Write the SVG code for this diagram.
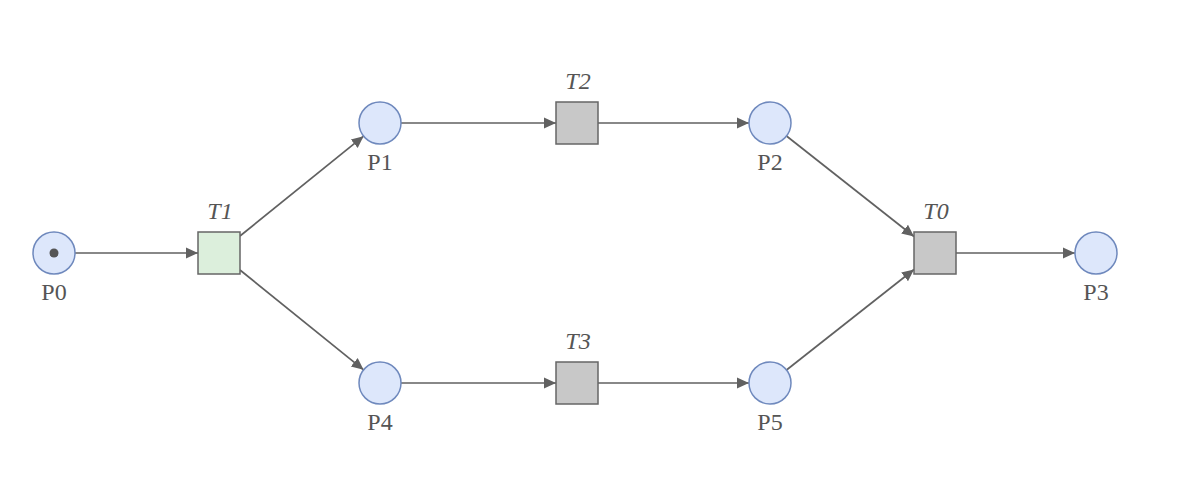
<svg xmlns="http://www.w3.org/2000/svg" width="1190" height="504" viewBox="0 0 1190 504">
<style>
.place{fill:#dde7fb;stroke:#6f89bd;stroke-width:1.5}
.trans{fill:#c8c8c8;stroke:#666;stroke-width:1.5}
.trans.en{fill:#dcefdc}
.lbl{font-family:'Liberation Serif','Times New Roman',serif;font-size:24px;fill:#555;text-anchor:middle}
.tl{font-style:italic}
.edge{stroke:#616161;stroke-width:1.7;fill:none;marker-end:url(#arr)}
</style>
<defs>
<marker id="arr" markerUnits="userSpaceOnUse" markerWidth="14" markerHeight="14" viewBox="0 0 14 14" refX="12" refY="7" orient="auto">
<path d="M0,1.5 L12,7 L0,12.5 Z" fill="#616161"/>
</marker>
</defs>
<rect width="1190" height="504" fill="#fff"/>
<g id="connectors">
<line class="edge" x1="75" y1="253" x2="198" y2="253"/>
<line class="edge" x1="240" y1="236" x2="363.6" y2="136.2"/>
<line class="edge" x1="240" y1="270" x2="363.6" y2="369.8"/>
<line class="edge" x1="401" y1="123" x2="556" y2="123"/>
<line class="edge" x1="401" y1="383" x2="556" y2="383"/>
<line class="edge" x1="598" y1="123" x2="749" y2="123"/>
<line class="edge" x1="598" y1="383" x2="749" y2="383"/>
<line class="edge" x1="786.5" y1="136" x2="914" y2="236.5"/>
<line class="edge" x1="786.5" y1="370" x2="914" y2="269.5"/>
<line class="edge" x1="956" y1="253" x2="1075" y2="253"/>
</g>
<g id="P0"><circle class="place" cx="54" cy="253" r="21"/><circle cx="54" cy="253" r="4.5" fill="#555"/><text class="lbl" x="54" y="300">P0</text></g>
<g id="P1"><circle class="place" cx="380" cy="123" r="21"/><text class="lbl" x="380" y="170">P1</text></g>
<g id="P2"><circle class="place" cx="770" cy="123" r="21"/><text class="lbl" x="770" y="170">P2</text></g>
<g id="P3"><circle class="place" cx="1096" cy="253" r="21"/><text class="lbl" x="1096" y="300">P3</text></g>
<g id="P4"><circle class="place" cx="380" cy="383" r="21"/><text class="lbl" x="380" y="430">P4</text></g>
<g id="P5"><circle class="place" cx="770" cy="383" r="21"/><text class="lbl" x="770" y="430">P5</text></g>
<g id="T1"><rect class="trans en" x="198" y="232" width="42" height="42"/><text class="lbl tl" x="220" y="219">T1</text></g>
<g id="T2"><rect class="trans" x="556" y="102" width="42" height="42"/><text class="lbl tl" x="578" y="89">T2</text></g>
<g id="T3"><rect class="trans" x="556" y="362" width="42" height="42"/><text class="lbl tl" x="578" y="349">T3</text></g>
<g id="T0"><rect class="trans" x="914" y="232" width="42" height="42"/><text class="lbl tl" x="936" y="219">T0</text></g>
</svg>
